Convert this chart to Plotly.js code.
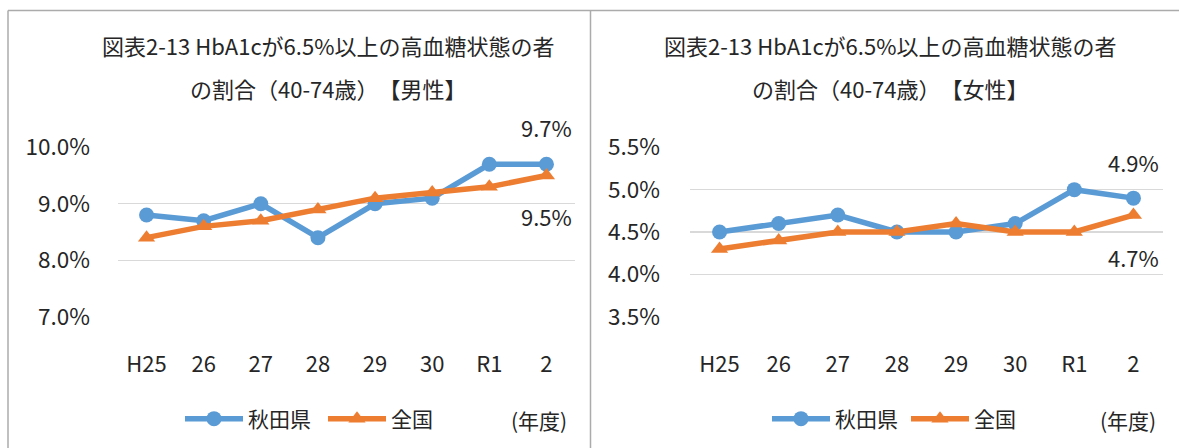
<!DOCTYPE html>
<html>
<head>
<meta charset="utf-8">
<script src="https://cdn.plot.ly/plotly-3.0.1.min.js"></script>
<style>
html,body{margin:0;padding:0;background:#fff;}
#chart{width:1179px;height:448px;}
svg text{text-spacing-trim: space-all;}
</style>
</head>
<body>
<div id="chart"></div>
<script>
const categories = ['H25','26','27','28','29','30','R1','2'];
const maleAkita = [8.8, 8.7, 9.0, 8.4, 9.0, 9.1, 9.7, 9.7];
const maleNational = [8.4, 8.6, 8.7, 8.9, 9.1, 9.2, 9.3, 9.5];
const femaleAkita = [4.5, 4.6, 4.7, 4.5, 4.5, 4.6, 5.0, 4.9];
const femaleNational = [4.3, 4.4, 4.5, 4.5, 4.6, 4.5, 4.5, 4.7];
const maleTicks = [7.0, 8.0, 9.0, 10.0];
const femaleTicks = [3.5, 4.0, 4.5, 5.0, 5.5];
const seriesNames = ['秋田県', '全国'];
const titleLine1 = '図表2-13 HbA1cが6.5%以上の高血糖状態の者';
const maleTitleLine2 = 'の割合（40-74歳）【男性】';
const femaleTitleLine2 = 'の割合（40-74歳）【女性】';
const unitLabel = '(年度)';

const W = 1179, H = 448;
const px = v => v / W;
const py = v => 1 - v / H;
const BLUE = '#5B9BD5', ORANGE = '#ED7D31', TXT = '#262626';
const FONT = '"Noto Sans CJK JP", "Noto Sans", sans-serif';
const FS = 22;

function lineTrace(y, name, color, symbol, size, xa, ya, legend) {
  return {
    type: 'scatter', mode: 'lines+markers', x: categories, y: y, name: name,
    xaxis: xa, yaxis: ya, legend: legend,
    line: {color: color, width: 5.5},
    marker: {color: color, symbol: symbol, size: size},
    hoverinfo: 'skip'
  };
}

const traces = [
  lineTrace(maleAkita, seriesNames[0], BLUE, 'circle', 15, 'x', 'y', 'legend'),
  lineTrace(maleNational, seriesNames[1], ORANGE, 'triangle-up', 15, 'x', 'y', 'legend'),
  lineTrace(femaleAkita, seriesNames[0], BLUE, 'circle', 15, 'x2', 'y2', 'legend2'),
  lineTrace(femaleNational, seriesNames[1], ORANGE, 'triangle-up', 15, 'x2', 'y2', 'legend2')
];

function xAxis(d, anchor) {
  return {
    domain: d, anchor: anchor, type: 'category', range: [-0.5, categories.length - 0.5],
    showgrid: false, zeroline: false, showline: false, ticks: '',
    tickfont: {family: FONT, size: FS, color: TXT}, ticklabelstandoff: 32, fixedrange: true
  };
}
function yAxis(anchor, ticks, standoff) {
  const pad = (ticks[ticks.length - 1] - ticks[0]) * 0.002;
  return {
    domain: [py(317), py(147)], anchor: anchor,
    range: [ticks[0] - pad, ticks[ticks.length - 1] + pad], tickvals: ticks,
    ticktext: ticks.map(v => v.toFixed(1) + '%'),
    showgrid: true, gridcolor: '#D9D9D9', gridwidth: 1.4,
    zeroline: false, showline: false, ticks: '',
    tickfont: {family: FONT, size: FS + 0.5, color: TXT}, ticklabelstandoff: standoff, fixedrange: true
  };
}

const last = categories.length - 1;
const annFont = {family: FONT, size: FS, color: TXT};
function label(xref, yref, v, shift) {
  return {xref: xref, yref: yref, x: last, y: v, text: v.toFixed(1) + '%',
    showarrow: false, yshift: shift, font: annFont};
}
function paperText(x, y, t, size) {
  return {xref: 'paper', yref: 'paper', x: px(x), y: py(y), text: t, showarrow: false,
    xanchor: 'center', yanchor: 'middle', font: {family: FONT, size: size, color: TXT}};
}

const annotations = [
  paperText(328, 45, titleLine1, FS),
  paperText(328, 88, maleTitleLine2, FS),
  paperText(890, 45, titleLine1, FS),
  paperText(890, 88, femaleTitleLine2, FS),
  label('x', 'y', maleAkita[last], 37),
  label('x', 'y', maleNational[last], -40),
  label('x2', 'y2', femaleAkita[last], 36),
  label('x2', 'y2', femaleNational[last], -42),
  paperText(539, 420, unitLabel, 21),
  paperText(1128, 420, unitLabel, 21)
];

function legendObj(x, ew) {
  return {
    orientation: 'h', x: px(x), xanchor: 'left', y: py(419), yanchor: 'middle',
    bgcolor: 'rgba(0,0,0,0)', borderwidth: 0, itemwidth: 58,
    entrywidth: ew, entrywidthmode: 'pixels',
    font: {family: FONT, size: 21, color: TXT}, itemclick: false, itemdoubleclick: false
  };
}

const lineStyle = {color: '#ABABAB', width: 1.5};
const shapes = [
  {type: 'line', xref: 'paper', yref: 'paper', x0: px(8), x1: 1, y0: py(10.5), y1: py(10.5), line: lineStyle},
  {type: 'line', xref: 'paper', yref: 'paper', x0: px(8), x1: px(8), y0: 0, y1: py(10.5), line: lineStyle},
  {type: 'line', xref: 'paper', yref: 'paper', x0: px(590.5), x1: px(590.5), y0: 0, y1: py(10.5), line: lineStyle}
];

const layout = {
  width: W, height: H, margin: {l: 0, r: 0, t: 0, b: 0},
  paper_bgcolor: '#fff', plot_bgcolor: 'rgba(0,0,0,0)',
  font: {family: FONT, color: TXT},
  showlegend: true,
  xaxis: xAxis([px(118), px(575)], 'y'),
  yaxis: yAxis('x', maleTicks, 27),
  xaxis2: xAxis([px(690), px(1163)], 'y2'),
  yaxis2: yAxis('x2', femaleTicks, 29),
  legend: legendObj(180, 70),
  legend2: legendObj(767, 66),
  annotations: annotations,
  shapes: shapes
};

Plotly.newPlot('chart', traces, layout, {staticPlot: true, displayModeBar: false});
</script>
</body>
</html>
